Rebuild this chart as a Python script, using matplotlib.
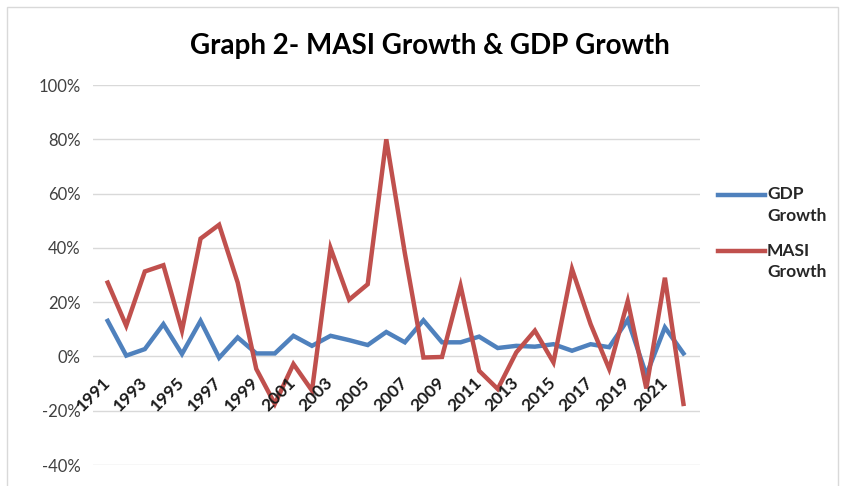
import numpy as np
import matplotlib
matplotlib.use("Agg")
import matplotlib.pyplot as plt
from matplotlib.patches import Rectangle
from matplotlib.lines import Line2D
from matplotlib.ticker import FuncFormatter

years = list(range(1991, 2023))
gdp_growth = [13.1, 0.3, 2.7, 11.9, 0.9, 13.1, -0.5, 7.0, 1.1, 1.1, 7.6, 3.9, 7.6, 6.0, 4.2, 9.0,
              5.2, 13.3, 5.2, 5.2, 7.3, 3.1, 3.9, 3.6, 4.5, 2.1, 4.5, 3.4, 13.5, -6.8, 10.7, 1.1]
masi_growth = [27.2, 11.3, 31.3, 33.6, 9.5, 43.4, 48.5, 27.2, -4.6, -17.5, -2.8, -12.6, 39.9, 20.9, 26.6, 80.0,
               38.0, -0.4, -0.2, 26.0, -5.3, -12.0, 1.5, 9.5, -2.2, 32.2, 11.9, -4.6, 20.4, -11.8, 29.0, -17.5]
series_names = ['GDP\nGrowth', 'MASI\nGrowth']
colors = ['#4f81bd', '#c0504d']

plt.rcParams['font.family'] = ['Lato', 'DejaVu Sans']

W, H = 841, 486
fig = plt.figure(figsize=(W / 100, H / 100), dpi=100)
fig.patches.append(Rectangle((0.008, -0.01), 0.988, 0.996, transform=fig.transFigure,
                             fill=False, edgecolor='#d9d9d9', linewidth=1.0))

ax = fig.add_axes([93 / W, 21 / H, 607 / W, 380 / H])
x = np.arange(len(years))
for vals, c in zip([gdp_growth, masi_growth], colors):
    ax.plot(x, vals, color=c, linewidth=3.2, solid_joinstyle='miter')

ax.set_ylim(-40, 100)
ax.set_yticks(np.arange(-40, 101, 20))
ax.yaxis.set_major_formatter(FuncFormatter(lambda v, p: f"{v:.0f}%"))
ax.set_xlim(-0.79, len(years) - 0.11)
ax.grid(axis='y', color='#d9d9d9', linewidth=1.0)
ax.set_axisbelow(True)
for s in ax.spines.values():
    s.set_visible(False)
ax.tick_params(axis='y', length=0, labelsize=12, labelcolor='#404040', pad=9)
ax.set_xticks([])

# category labels hang off the 0% line
for i in range(0, len(years), 2):
    ax.annotate(str(years[i]), xy=(x[i], 0), xytext=(0, -17), textcoords='offset points',
                rotation=45, ha='right', va='center', rotation_mode='anchor',
                fontsize=12.5, fontweight='bold', color='#1a1a1a')

fig.text(0.511, 0.905, 'Graph 2- MASI Growth & GDP Growth', ha='center', va='center',
         fontsize=20, fontweight='bold', color='#000000')

# legend drawn by hand: handle lines up with the first text line
for k, (name, c) in enumerate(zip(series_names, colors)):
    yk = 195 + k * 56.5
    fig.add_artist(Line2D([718 / W, 765 / W], [1 - yk / H, 1 - yk / H], color=c,
                          linewidth=3.2, transform=fig.transFigure))
    fig.text(767 / W, 1 - (yk - 9) / H, name, ha='left', va='top', fontsize=12.5,
             fontweight='bold', color='#262626', linespacing=1.45)

fig.savefig('out.png', dpi=100)
